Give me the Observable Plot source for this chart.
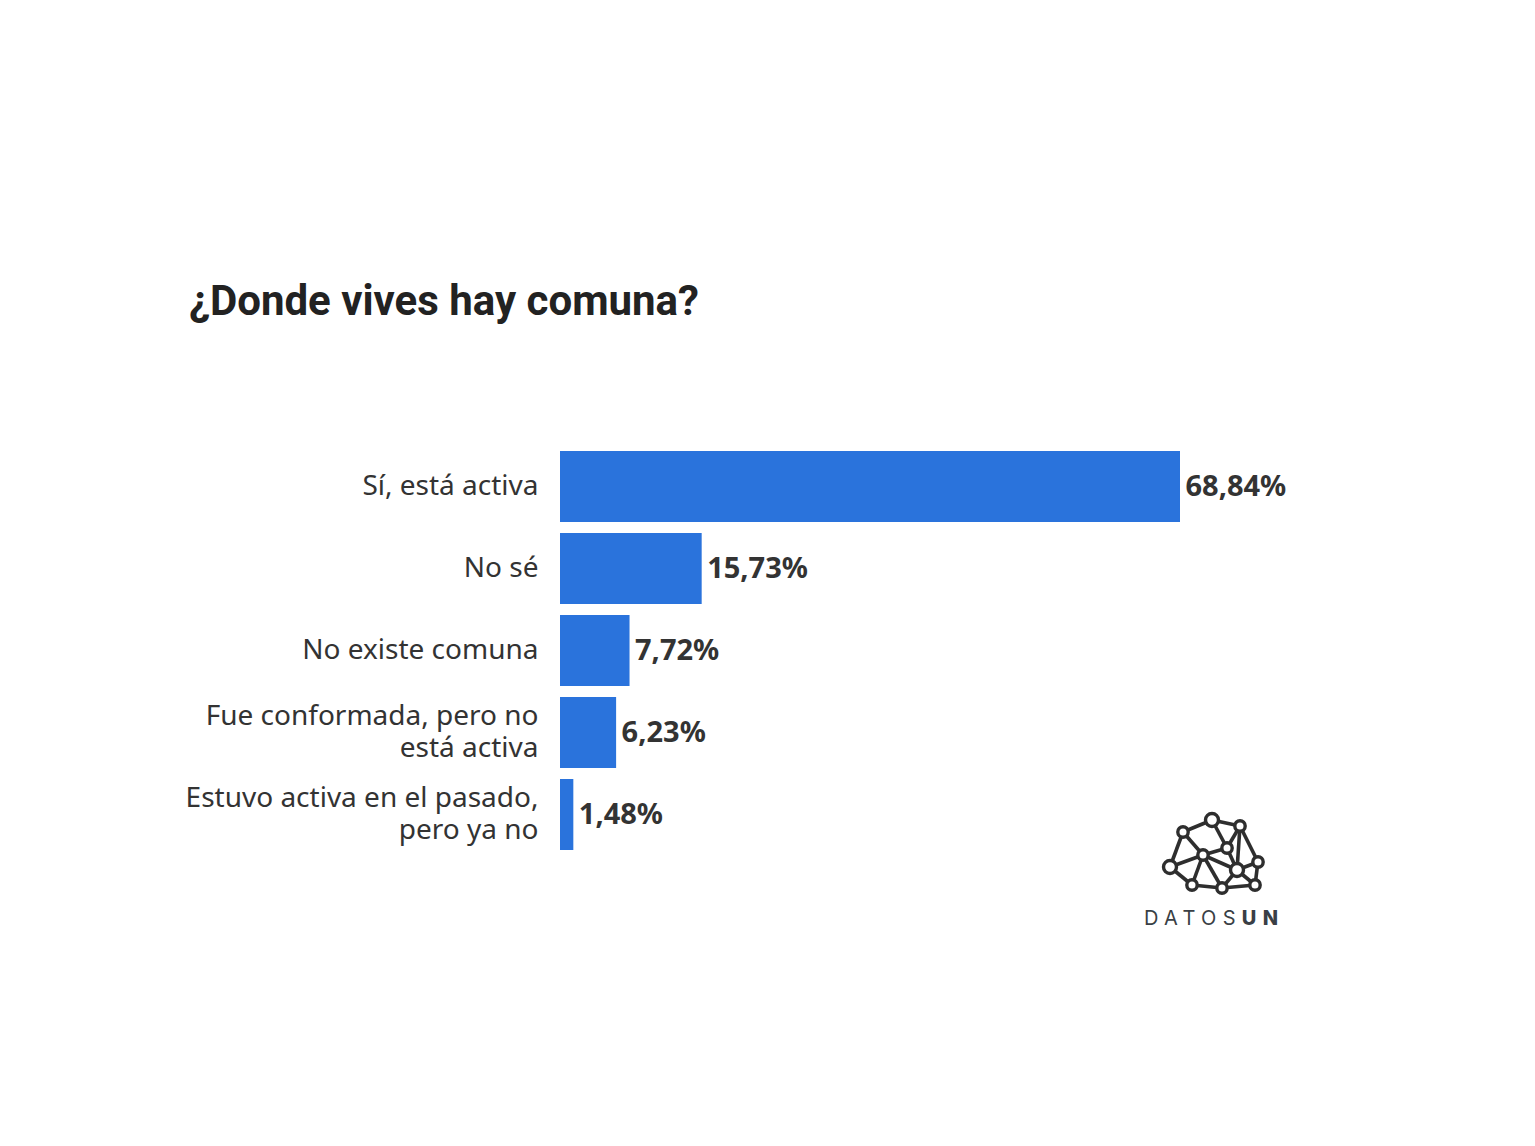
<!DOCTYPE html>
<html>
<head>
<meta charset="utf-8">
<script src="https://cdn.jsdelivr.net/npm/d3@7"></script>
<script src="https://cdn.jsdelivr.net/npm/@observablehq/plot@0.6"></script>
<style>
  html, body { margin: 0; padding: 0; background: #fff; }
  body { width: 1535px; height: 1146px; position: relative; overflow: hidden; }
  #title { position: absolute; left: 189px; top: 276px; font-family: Roboto, sans-serif; font-weight: 700; font-size: 42px; color: #222; letter-spacing: 0px; }
  #chart { position: absolute; left: 0; top: 418px; }
  #logo { position: absolute; left: 1140px; top: 800px; }
</style>
</head>
<body>
<div id="title">¿Donde vives hay comuna?</div>
<div id="chart"></div>
<svg id="logo" width="160" height="140" viewBox="1140 800 160 140"></svg>
<script>
const categories = [
  "Sí, está activa",
  "No sé",
  "No existe comuna",
  "Fue conformada, pero no\nestá activa",
  "Estuvo activa en el pasado,\npero ya no"
];
const values = [68.84, 15.73, 7.72, 6.23, 1.48];
const valueLabels = ["68,84%", "15,73%", "7,72%", "6,23%", "1,48%"];

const data = categories.map((c, i) => ({ cat: c, v: values[i], label: valueLabels[i] }));

const chart = Plot.plot({
  width: 1535,
  height: 464,
  marginLeft: 560,
  marginRight: 355,
  marginTop: 20,
  marginBottom: 20,
  style: { fontFamily: "'Noto Sans', sans-serif", background: "transparent" },
  x: { domain: [0, 68.84], axis: null },
  y: { domain: categories, padding: 0.14, label: null },
  marks: [
    Plot.barX(data, { x: "v", y: "cat", fill: "#2a73dc" }),
    Plot.text(data, { x: "v", y: "cat", text: "label", textAnchor: "start", dx: 5, dy: 0, fontSize: 29, fontWeight: 700, fill: "#333" }),
    Plot.axisY({ tickSize: 0, tickPadding: 22, fontSize: 28, lineHeight: 1.12, dy: -2, fill: "#333", label: null })
  ]
});
document.getElementById("chart").appendChild(chart);

// logo (decorative)
const nodes = [[1212,820],[1183,832],[1240,826],[1227,848],[1203,855],[1170,867],[1258,862],[1237,870],[1192,885],[1222,888],[1255,885]];
const edges = [[0,1],[0,2],[0,3],[1,4],[1,5],[2,3],[2,7],[2,6],[3,4],[3,7],[4,5],[4,8],[4,9],[4,7],[5,8],[8,9],[9,7],[9,10],[7,10],[6,10],[6,7]];
const logo = d3.select("#logo");
logo.selectAll("line").data(edges).join("line")
  .attr("x1", d => nodes[d[0]][0]).attr("y1", d => nodes[d[0]][1])
  .attr("x2", d => nodes[d[1]][0]).attr("y2", d => nodes[d[1]][1])
  .attr("stroke", "#2e2e2e").attr("stroke-width", 3.6);
logo.selectAll("circle").data(nodes).join("circle")
  .attr("cx", d => d[0]).attr("cy", d => d[1]).attr("r", (d, i) => i === 0 || i === 5 || i === 7 ? 6.5 : 5.2)
  .attr("fill", "#fff").attr("stroke", "#2e2e2e").attr("stroke-width", 3.4);
const t = logo.append("text").attr("x", 1144).attr("y", 925)
  .attr("font-family", "Inter, 'Noto Sans', sans-serif").attr("font-size", 20).attr("letter-spacing", 6.3).attr("fill", "#3a3f45");
t.append("tspan").text("DATOS");
t.append("tspan").attr("font-weight", 800).text("UN");
</script>
</body>
</html>
